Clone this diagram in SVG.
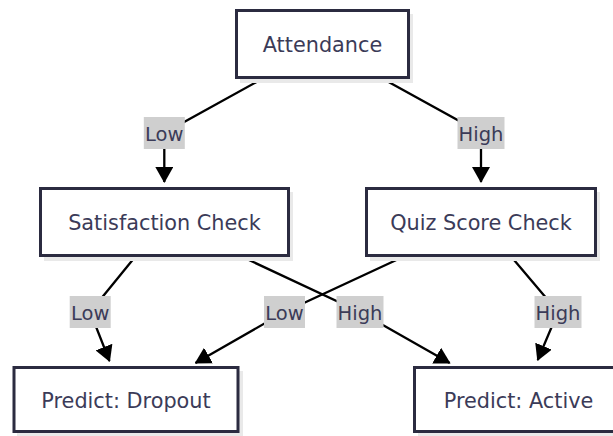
<svg xmlns="http://www.w3.org/2000/svg" width="613" height="436" viewBox="0 0 613 436">
<style>
.box{fill:#ffffff;stroke:#2b2b40;stroke-width:3}
.shadow{fill:#e9e9e9}
.ntext{font-family:"DejaVu Sans",sans-serif;font-size:20.8px;fill:#3b3b58;text-anchor:middle}
.edge{fill:none;stroke:#000000;stroke-width:2.3}
.lbg{fill:#cfcfcf}
.ltext{font-family:"DejaVu Sans",sans-serif;font-size:19.5px;fill:#3b3b58;text-anchor:middle}
</style>
<defs>
<marker id="arrow" viewBox="0 0 16 18" refX="15" refY="9" markerWidth="16" markerHeight="18" markerUnits="userSpaceOnUse" orient="auto">
<path d="M0,0 L16,9 L0,18 Z" fill="#000000"/>
</marker>
</defs>
<rect width="613" height="436" fill="#ffffff"/>
<g id="connectors">
<path class="edge" d="M260,80 L164.3,133 L164.3,182" marker-end="url(#arrow)"/>
<path class="edge" d="M385,80 L481,133 L481,182" marker-end="url(#arrow)"/>
<path class="edge" d="M135,257 L90.2,312 L109.5,361" marker-end="url(#arrow)"/>
<path class="edge" d="M242.5,257 L360,312 L449.7,363" marker-end="url(#arrow)"/>
<path class="edge" d="M402.8,257 L284.5,312 L195.5,363" marker-end="url(#arrow)"/>
<path class="edge" d="M511.5,257 L558,312 L537.7,360" marker-end="url(#arrow)"/>
<g id="label-att-low"><rect class="lbg" x="143.8" y="117" width="41" height="32"/><text class="ltext" x="164.3" y="140.5">Low</text></g>
<g id="label-att-high"><rect class="lbg" x="457.5" y="117" width="47" height="32"/><text class="ltext" x="481" y="140.5">High</text></g>
<g id="label-sat-low"><rect class="lbg" x="69.7" y="296" width="41" height="32"/><text class="ltext" x="90.2" y="319.5">Low</text></g>
<g id="label-sat-high"><rect class="lbg" x="336.5" y="296" width="47" height="32"/><text class="ltext" x="360" y="319.5">High</text></g>
<g id="label-quiz-low"><rect class="lbg" x="264" y="296" width="41" height="32"/><text class="ltext" x="284.5" y="319.5">Low</text></g>
<g id="label-quiz-high"><rect class="lbg" x="534.5" y="296" width="47" height="32"/><text class="ltext" x="558" y="319.5">High</text></g>
</g>
<g id="node-attendance">
<rect class="shadow" x="240" y="14" width="173" height="69"/>
<rect class="box" x="236.5" y="10.5" width="172" height="67"/>
<text class="ntext" x="322.5" y="51.5">Attendance</text>
</g>
<g id="node-satisfaction">
<rect class="shadow" x="44" y="192" width="249" height="69"/>
<rect class="box" x="40.5" y="188.5" width="248" height="67"/>
<text class="ntext" x="164.5" y="230">Satisfaction Check</text>
</g>
<g id="node-quiz">
<rect class="shadow" x="370" y="192" width="230" height="69"/>
<rect class="box" x="366.5" y="188.5" width="229" height="67"/>
<text class="ntext" x="481" y="230">Quiz Score Check</text>
</g>
<g id="node-dropout">
<rect class="shadow" x="17" y="371" width="226" height="69"/>
<rect class="box" x="14" y="367.5" width="224" height="64"/>
<text class="ntext" x="126" y="407.5">Predict: Dropout</text>
</g>
<g id="node-active">
<rect class="shadow" x="418" y="371" width="212" height="69"/>
<rect class="box" x="414.5" y="367.5" width="208" height="64"/>
<text class="ntext" x="518.5" y="407.5">Predict: Active</text>
</g>
</svg>
